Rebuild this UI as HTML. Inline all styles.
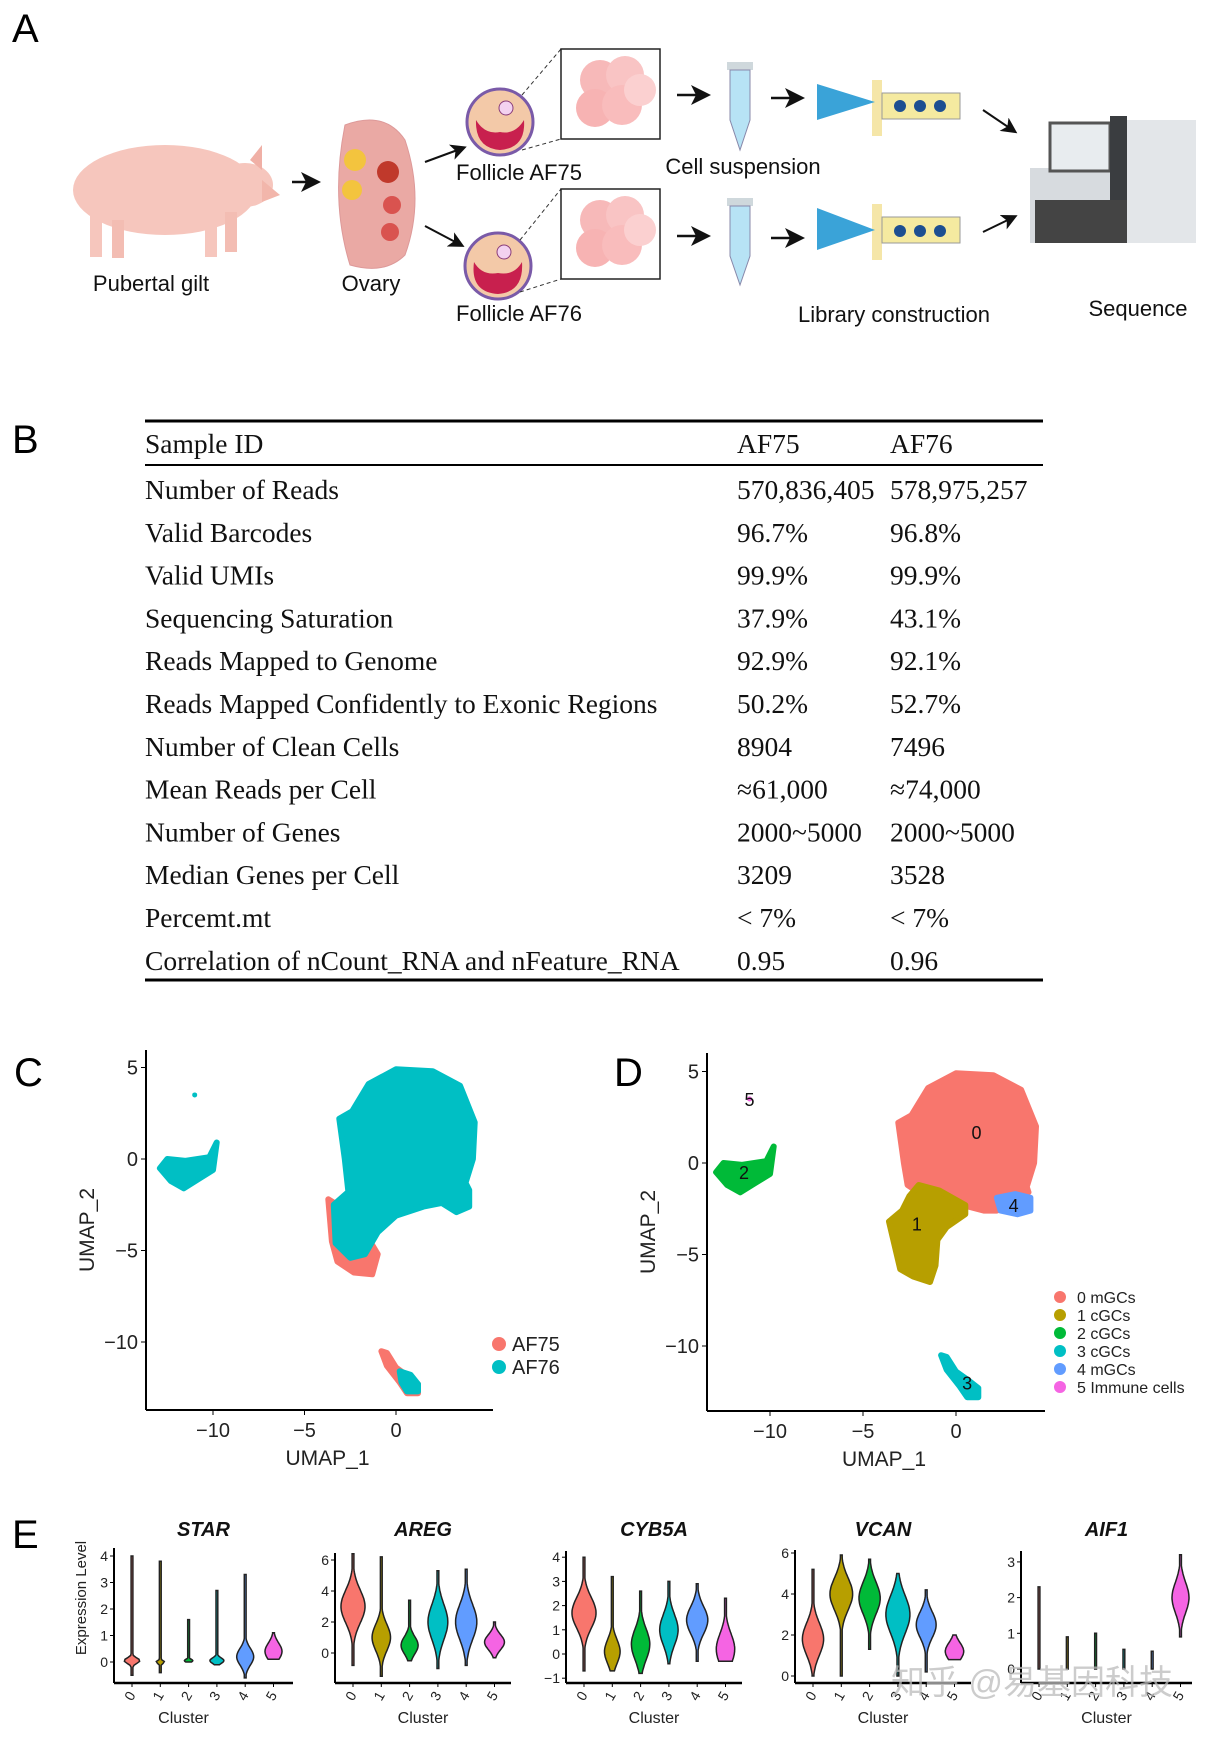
<!DOCTYPE html>
<html><head><meta charset="utf-8">
<style>
html,body{margin:0;padding:0;background:#fff;}
svg{display:block;}
text{font-family:"Liberation Sans",sans-serif;}
.serif{font-family:"Liberation Serif",serif;font-size:27.5px;fill:#111;}
.lab{font-size:22px;fill:#111;}
.panel{font-size:40px;fill:#000;}
</style></head>
<body>
<svg id="fig" width="1214" height="1739" viewBox="0 0 1214 1739" xmlns="http://www.w3.org/2000/svg">
<defs>
<marker id="arr" markerWidth="8" markerHeight="8" refX="6" refY="4" orient="auto"><path d="M0,0 L8,4 L0,8 L2,4 z" fill="#111"/></marker>
</defs>

<!-- Panel A -->
<g>
<text class="panel" x="12" y="42">A</text>
<g>
<ellipse cx="165" cy="190" rx="92" ry="45" fill="#f6c6bd"/>
<ellipse cx="245" cy="185" rx="28" ry="22" fill="#f6c6bd"/>
<path d="M262,180 L280,195 L262,202 z" fill="#f2b6ab"/>
<path d="M250,160 L262,145 L262,170 z" fill="#f0b0a6"/>
<rect x="90" y="215" width="12" height="42" fill="#f6c6bd"/><rect x="112" y="220" width="12" height="38" fill="#f3bdb3"/>
<rect x="205" y="215" width="12" height="42" fill="#f6c6bd"/><rect x="225" y="212" width="12" height="40" fill="#f3bdb3"/>
</g>
<text class="lab" x="151" y="291" text-anchor="middle">Pubertal gilt</text>
<line x1="292" y1="182" x2="316" y2="182" stroke="#111" stroke-width="2.5" marker-end="url(#arr)"/>
<g>
<path d="M345,125 Q385,110 405,140 Q425,200 405,255 Q385,275 350,265 Q330,200 345,125 z" fill="#eaa9a4" stroke="#d99" />
<circle cx="355" cy="160" r="11" fill="#f3c43e"/><circle cx="352" cy="190" r="10" fill="#f3c43e"/>
<circle cx="388" cy="172" r="11" fill="#c0392b"/><circle cx="392" cy="205" r="9" fill="#d9534f"/><circle cx="390" cy="232" r="9" fill="#d9534f"/>
</g>
<text class="lab" x="371" y="291" text-anchor="middle">Ovary</text>
<line x1="425" y1="162" x2="463" y2="148" stroke="#111" stroke-width="2" marker-end="url(#arr)"/>
<line x1="425" y1="226" x2="461" y2="245" stroke="#111" stroke-width="2" marker-end="url(#arr)"/>
<g>
<circle cx="500" cy="122" r="33" fill="#f3c9a8" stroke="#7a5aa8" stroke-width="3"/>
<path d="M476,120 Q475,148 500,150 Q526,148 524,120 Q515,135 500,132 Q485,135 476,120z" fill="#c8204e"/>
<circle cx="506" cy="108" r="7" fill="#f3d2f0" stroke="#8a3d7a"/>
</g>
<g>
<circle cx="498" cy="266" r="33" fill="#f3c9a8" stroke="#7a5aa8" stroke-width="3"/>
<path d="M474,262 Q470,292 498,294 Q524,292 522,262 Q514,276 498,273 Q482,276 474,262z" fill="#c8204e"/>
<circle cx="504" cy="252" r="7" fill="#f3d2f0" stroke="#8a3d7a"/>
</g>
<text class="lab" x="519" y="180" text-anchor="middle">Follicle AF75</text>
<text class="lab" x="519" y="321" text-anchor="middle">Follicle AF76</text>
<path d="M522,95 L561,49 M522,150 L561,139 M520,240 L561,189 M520,292 L561,279" stroke="#333" stroke-dasharray="4,3" fill="none"/>
<g>
<rect x="561" y="49" width="99" height="90" fill="#fff" stroke="#222" stroke-width="1.5"/>
<circle cx="600" cy="80" r="20" fill="#f7b9b9"/><circle cx="625" cy="75" r="19" fill="#f9c4c4"/><circle cx="595" cy="108" r="19" fill="#f7b3b3"/><circle cx="622" cy="105" r="20" fill="#f9bcbc"/><circle cx="640" cy="90" r="16" fill="#fbd0d0"/>
</g>
<g>
<rect x="561" y="189" width="99" height="90" fill="#fff" stroke="#222" stroke-width="1.5"/>
<circle cx="600" cy="220" r="20" fill="#f7b9b9"/><circle cx="625" cy="215" r="19" fill="#f9c4c4"/><circle cx="595" cy="248" r="19" fill="#f7b3b3"/><circle cx="622" cy="245" r="20" fill="#f9bcbc"/><circle cx="640" cy="230" r="16" fill="#fbd0d0"/>
</g>
<line x1="677" y1="95" x2="706" y2="95" stroke="#111" stroke-width="2.5" marker-end="url(#arr)"/>
<line x1="677" y1="236" x2="706" y2="236" stroke="#111" stroke-width="2.5" marker-end="url(#arr)"/>
<g><rect x="727" y="62" width="26" height="8" fill="#cfd8dc"/><path d="M730,70 L750,70 L750,120 L740,150 L730,120z" fill="#b7e3f5" stroke="#88a"/></g>
<g><rect x="727" y="198" width="26" height="8" fill="#cfd8dc"/><path d="M730,206 L750,206 L750,256 L740,285 L730,256z" fill="#b7e3f5" stroke="#88a"/></g>
<text class="lab" x="743" y="174" text-anchor="middle">Cell suspension</text>
<line x1="771" y1="98" x2="800" y2="98" stroke="#111" stroke-width="2.5" marker-end="url(#arr)"/>
<line x1="771" y1="238" x2="800" y2="238" stroke="#111" stroke-width="2.5" marker-end="url(#arr)"/>
<g>
<rect x="872" y="80" width="10" height="56" fill="#f5e6a8"/><rect x="882" y="93" width="78" height="26" fill="#f5eaa0" stroke="#999"/>
<path d="M817,84 L875,102 L817,120 z" fill="#3aa3d8"/><circle cx="900" cy="106" r="6" fill="#1d4f91"/><circle cx="920" cy="106" r="6" fill="#1d4f91"/><circle cx="940" cy="106" r="6" fill="#1d4f91"/>
</g>
<g>
<rect x="872" y="204" width="10" height="56" fill="#f5e6a8"/><rect x="882" y="217" width="78" height="26" fill="#f5eaa0" stroke="#999"/>
<path d="M817,208 L875,230 L817,250 z" fill="#3aa3d8"/><circle cx="900" cy="231" r="6" fill="#1d4f91"/><circle cx="920" cy="231" r="6" fill="#1d4f91"/><circle cx="940" cy="231" r="6" fill="#1d4f91"/>
</g>
<text class="lab" x="894" y="322" text-anchor="middle">Library construction</text>
<line x1="983" y1="110" x2="1014" y2="131" stroke="#111" stroke-width="2" marker-end="url(#arr)"/>
<line x1="983" y1="232" x2="1014" y2="217" stroke="#111" stroke-width="2" marker-end="url(#arr)"/>
<g>
<rect x="1030" y="168" width="166" height="75" fill="#d7dbdf"/>
<rect x="1050" y="123" width="60" height="48" fill="#e8ecef" stroke="#555" stroke-width="3"/>
<rect x="1110" y="116" width="17" height="127" fill="#3a3d40"/>
<rect x="1127" y="120" width="69" height="123" fill="#e3e6e9"/>
<rect x="1035" y="200" width="92" height="43" fill="#444"/>
</g>
<text class="lab" x="1138" y="316" text-anchor="middle">Sequence</text>
</g>

<!-- Panel B table -->
<g>
<text class="panel" x="12" y="453">B</text>
<line x1="145" y1="421" x2="1043" y2="421" stroke="#000" stroke-width="3"/>
<line x1="145" y1="465" x2="1043" y2="465" stroke="#000" stroke-width="2"/>
<line x1="145" y1="980" x2="1043" y2="980" stroke="#000" stroke-width="3"/>
<g id="tbl"></g>
</g>

<g id="panelC">
<text class="panel" x="14" y="1086">C</text>
</g>
<g id="panelD">
<text class="panel" x="614" y="1086">D</text>
</g>
<text class="panel" x="12" y="1548">E</text>
<g id="panelE" transform="translate(0,8)">
<text x="0" y="0" transform="translate(86,1590) rotate(-90)" text-anchor="middle" font-size="15" fill="#222">Expression Level</text>
</g>
<text x="1032" y="1694" text-anchor="middle" font-size="34" fill="#bbb" fill-opacity="0.75" font-family="'Liberation Sans','Noto Sans CJK SC',sans-serif">知乎 @易基因科技</text>
</svg>

<script>
const NS="http://www.w3.org/2000/svg";
function el(tag,attrs,parent,txt){const e=document.createElementNS(NS,tag);for(const k in attrs)e.setAttribute(k,attrs[k]);if(txt!==undefined)e.textContent=txt;parent.appendChild(e);return e;}

// ---------- Table ----------
const tableLabels=["Number of Reads","Valid Barcodes","Valid UMIs","Sequencing Saturation","Reads Mapped to Genome","Reads Mapped Confidently to Exonic Regions","Number of Clean Cells","Mean Reads per Cell","Number of Genes","Median Genes per Cell","Percemt.mt","Correlation of nCount_RNA and nFeature_RNA"];
const tableAF75=["570,836,405","96.7%","99.9%","37.9%","92.9%","50.2%","8904","≈61,000","2000~5000","3209","< 7%","0.95"];
const tableAF76=["578,975,257","96.8%","99.9%","43.1%","92.1%","52.7%","7496","≈74,000","2000~5000","3528","< 7%","0.96"];
const tbl=document.getElementById('tbl');
let h=el('text',{class:'serif',x:145,y:453},tbl,'Sample ID');


h=el('text',{class:'serif',x:737,y:453},tbl,'AF75');


h=el('text',{class:'serif',x:890,y:453},tbl,'AF76');


tableLabels.forEach((lab,i)=>{
  const y=499+i*42.8;
  const g=el('g',{},tbl);
  
  
  el('text',{class:'serif',x:145,y:y},g,lab);
  el('text',{class:'serif',x:737,y:y},g,tableAF75[i]);
  el('text',{class:'serif',x:890,y:y},g,tableAF76[i]);
});

// ---------- UMAP data ----------
const xTicks=[-10,-5,0];
const yTicks=[5,0,-5,-10];
const mainBlobCyan=[[-2.4,2.6],[-1.5,4.1],[0,4.9],[2,4.8],[3.5,4],[4.3,2],[4.2,0],[3.8,-1.3],[4.0,-1.7],[4.0,-2.6],[3.3,-2.9],[2.5,-2.4],[1.5,-2.6],[0,-3.1],[-1,-4],[-1.7,-5.2],[-2.5,-5.4],[-3.3,-4.6],[-3.4,-2.5],[-2.6,-1.8],[-2.8,0],[-3.1,2.2]];
const mainBlobSalmon=[[-3.7,-2.2],[-3.5,-4.5],[-3.2,-5.6],[-2.3,-6.2],[-1.3,-6.3],[-1.0,-5.2],[-1.6,-4.2],[-2.4,-3]];
const leftBlob=[[-12.9,-0.5],[-12.5,0],[-11.5,-0.1],[-10.2,0.1],[-9.8,0.9],[-10.0,-0.6],[-10.8,-1.1],[-11.6,-1.6],[-12.3,-1.2]];
const bottomStreakSalmon=[[-0.8,-10.5],[-0.5,-10.6],[0,-11.4],[0.7,-11.9],[1.2,-12.3],[1.2,-12.8],[0.6,-12.8],[0.2,-12.2],[-0.5,-11.3]];
const bottomStreakCyan=[[0.2,-11.6],[0.8,-11.8],[1.2,-12.3],[1.2,-12.7],[0.6,-12.7],[0.3,-12.2]];
const cluster0=[[-2.4,2.6],[-1.5,4.1],[0,4.9],[2,4.8],[3.5,4],[4.3,2],[4.2,0],[3.8,-1.3],[3.9,-1.6],[2.5,-1.9],[2.2,-2.6],[1.5,-2.6],[0,-2.2],[-1.2,-1.8],[-2.0,-1.6],[-2.6,-1.2],[-2.8,0],[-3.1,2.2]];
const cluster1=[[-2.0,-1.2],[-0.9,-1.5],[0.5,-2.3],[0.5,-2.8],[-0.5,-3.5],[-1.0,-4.2],[-1.1,-5.6],[-1.4,-6.5],[-2.3,-6.2],[-3.0,-5.8],[-3.3,-4.5],[-3.6,-3.2],[-2.9,-2.6],[-2.5,-1.8]];
const cluster4=[[2.2,-1.9],[3.2,-1.7],[4.0,-1.9],[4.0,-2.6],[3.3,-2.8],[2.4,-2.6]];
const clusterColors=["#F8766D","#B79F00","#00BA38","#00BFC4","#619CFF","#F564E3"];
const clusterNames=["0 mGCs","1 cGCs","2 cGCs","3 cGCs","4 mGCs","5 Immune cells"];
const clusterLabelPos=[[1.1,1.7],[-2.1,-3.3],[-11.4,-0.5],[0.6,-12.0],[3.1,-2.3],[-11.1,3.5]];
const sampleNames=["AF75","AF76"];
const sampleColors=["#F8766D","#00BFC4"];

function umapAxes(g,x0,y0,sx,sy,xAxisX,xAxisEnd,yAxisTop,xAxisY){
  const X=v=>x0+v*sx, Y=v=>y0-v*sy;
  el('line',{x1:xAxisX,y1:yAxisTop,x2:xAxisX,y2:xAxisY,stroke:'#000','stroke-width':2},g);
  el('line',{x1:xAxisX,y1:xAxisY,x2:xAxisEnd,y2:xAxisY,stroke:'#000','stroke-width':2},g);
  xTicks.forEach(t=>{
    el('line',{x1:X(t),y1:xAxisY,x2:X(t),y2:xAxisY+5,stroke:'#000'},g);
    const tx=el('text',{x:X(t),y:xAxisY+27,'text-anchor':'middle','font-size':20,fill:'#222'},g,t===0?'0':'−'+Math.abs(t));
    
    
  });
  yTicks.forEach(t=>{
    el('line',{x1:xAxisX-5,y1:Y(t),x2:xAxisX,y2:Y(t),stroke:'#000'},g);
    const ty=el('text',{x:xAxisX-8,y:Y(t)+7,'text-anchor':'end','font-size':20,fill:'#222'},g,t<0?'−'+Math.abs(t):String(t));
    
    
  });
  const xt=el('text',{x:(xAxisX+xAxisEnd)/2+8,y:xAxisY+55,'text-anchor':'middle','font-size':21,fill:'#222'},g,'UMAP_1');
  
  
  const yt=el('text',{transform:`translate(${xAxisX-52},${(yAxisTop+xAxisY)/2}) rotate(-90)`,'text-anchor':'middle','font-size':21,fill:'#222'},g,'UMAP_2');
  
  
  return [X,Y];
}
function blob(g,pts,X,Y,color,name){
  const d='M'+pts.map(p=>X(p[0]).toFixed(1)+','+Y(p[1]).toFixed(1)).join(' L')+' Z';
  const p=el('path',{d:d,fill:color,stroke:color,'stroke-width':6,'stroke-linejoin':'round'},g);
  
  
}

// Panel C
(function(){
  const g=document.getElementById('panelC');
  const [X,Y]=umapAxes(g,396,1159,18.3,18.3,146,493,1050,1410);
  blob(g,mainBlobSalmon,X,Y,sampleColors[0],'af75-cells-main');
  blob(g,mainBlobCyan,X,Y,sampleColors[1],'af76-cells-main');
  blob(g,leftBlob,X,Y,sampleColors[1],'af76-cells-left');
  blob(g,bottomStreakSalmon,X,Y,sampleColors[0],'af75-cells-bottom');
  blob(g,bottomStreakCyan,X,Y,sampleColors[1],'af76-cells-bottom');
  const dot=el('circle',{cx:X(-11),cy:Y(3.5),r:2.5,fill:sampleColors[1]},g);
  
  
  sampleNames.forEach((n,i)=>{
    const lg=el('g',{},g);
    
    
    el('circle',{cx:499,cy:1344+i*23,r:7,fill:sampleColors[i]},lg);
    el('text',{x:512,y:1351+i*23,'font-size':20,fill:'#222'},lg,n);
  });
})();

// Panel D
(function(){
  const g=document.getElementById('panelD');
  const [X,Y]=umapAxes(g,956,1163,18.6,18.3,707,1045,1053,1411);
  blob(g,cluster0,X,Y,clusterColors[0],'cluster-0-cells');
  blob(g,cluster1,X,Y,clusterColors[1],'cluster-1-cells');
  blob(g,leftBlob,X,Y,clusterColors[2],'cluster-2-cells');
  blob(g,bottomStreakSalmon,X,Y,clusterColors[3],'cluster-3-cells');
  blob(g,cluster4,X,Y,clusterColors[4],'cluster-4-cells');
  const dot=el('circle',{cx:X(-11.1),cy:Y(3.5),r:2.5,fill:clusterColors[5]},g);
  
  
  clusterLabelPos.forEach((p,i)=>{
    const t=el('text',{x:X(p[0]),y:Y(p[1])+7,'text-anchor':'middle','font-size':18,fill:'#111'},g,String(i));
    
    
  });
  clusterNames.forEach((n,i)=>{
    const lg=el('g',{},g);
    
    
    el('circle',{cx:1060,cy:1297+i*18,r:6,fill:clusterColors[i]},lg);
    el('text',{x:1077,y:1303+i*18,'font-size':16,fill:'#222'},lg,n);
  });
})();

// ---------- Panel E violin data ----------
const genes=["STAR","AREG","CYB5A","VCAN","AIF1"];
const starMin=[-0.5,-0.4,0,-0.1,-0.6,0.1], starMax=[4,3.8,1.6,2.7,3.3,1.1], starMode=[0.05,0,0.05,0.05,0.2,0.4], starWid=[0.55,0.3,0.3,0.5,0.6,0.6], starSpread=[0.15,0.08,0.08,0.15,0.45,0.45];
const aregMin=[-0.8,-1.5,-0.5,-1,-0.8,-0.3], aregMax=[6.4,6.2,3.4,5.3,5.4,2], aregMode=[3,1,0.5,2,2,0.7], aregWid=[0.85,0.65,0.6,0.7,0.75,0.7], aregSpread=[1.5,1.2,0.8,1.6,1.6,0.7];
const cybMin=[-0.7,-0.7,-0.8,-0.4,-0.3,-0.3], cybMax=[4,3.2,2.6,3,2.9,2.3], cybMode=[1.7,0.1,0.4,1,1.4,0.2], cybWid=[0.85,0.55,0.65,0.65,0.75,0.65], cybSpread=[0.9,0.7,0.9,0.9,0.8,0.9];
const vcanMin=[0,0,1.3,0,0.2,0.8], vcanMax=[5.2,5.9,5.7,5,4.2,2], vcanMode=[1.8,4,3.8,3,2.5,1.2], vcanWid=[0.75,0.8,0.75,0.85,0.7,0.65], vcanSpread=[1.1,1.1,1.1,1.3,0.9,0.6];
const aifMin=[0,0,0,0,0,0.9], aifMax=[2.3,0.9,1,0.55,0.5,3.2], aifMode=[0,0,0,0,0,2], aifWid=[0.06,0.03,0.03,0.03,0.03,0.6], aifSpread=[0.1,0.1,0.1,0.1,0.1,0.6];
const geneTicks=[[0,1,2,3,4],[0,2,4,6],[-1,0,1,2,3,4],[0,2,4,6],[0,1,2,3]];
const clusters=[0,1,2,3,4,5];
const panelAxisX=[114,335,566,795,1021];
const panelAxisEnd=[293,511,742,971,1192];
const panelZeroY=[1654,1645,1646,1668,1661];
const panelUnit=[26.5,15.5,24.2,20.5,35.7];
const panelTop=[1540,1545,1543,1542,1543];

const violinData=[[starMin,starMax,starMode,starWid,starSpread],[aregMin,aregMax,aregMode,aregWid,aregSpread],[cybMin,cybMax,cybMode,cybWid,cybSpread],[vcanMin,vcanMax,vcanMode,vcanWid,vcanSpread],[aifMin,aifMax,aifMode,aifWid,aifSpread]];
(function(){
  const g=document.getElementById('panelE');
  const axisY=1675, sp=28.3;
  genes.forEach((gene,k)=>{
    const pg=el('g',{},g);
    
    
    const ax=panelAxisX[k], Y=v=>panelZeroY[k]-v*panelUnit[k];
    const X=c=>ax+18+c*sp;
    const t=el('text',{x:(ax+panelAxisEnd[k])/2,y:1528,'text-anchor':'middle','font-size':20,'font-weight':'bold','font-style':'italic',fill:'#111'},pg,gene);
    
    
    const [mn,mx,mo,wd,spr]=violinData[k];
    clusters.forEach(c=>{
      const lo=mn[c],hi=mx[c],mode=mo[c],W=wd[c]*sp/2;
      const s=spr[c];
      const N=60, right=[], left=[];
      for(let i=0;i<=N;i++){
        const v=lo+(hi-lo)*i/N;
        let w=W*Math.exp(-Math.pow((v-mode)/s,2));
        w=Math.max(w,0.9);
        right.push([X(c)+w,Y(v)]);left.push([X(c)-w,Y(v)]);
      }
      const pts=right.concat(left.reverse());
      const d='M'+pts.map(p=>p[0].toFixed(1)+','+p[1].toFixed(1)).join(' L')+' Z';
      const v=el('path',{d:d,fill:clusterColors[c],stroke:'#222','stroke-width':1.5},pg);
      
      
    });
    el('line',{x1:ax,y1:panelTop[k],x2:ax,y2:axisY,stroke:'#000','stroke-width':2},pg);
    el('line',{x1:ax,y1:axisY,x2:panelAxisEnd[k],y2:axisY,stroke:'#000','stroke-width':2.5},pg);
    geneTicks[k].forEach(tv=>{
      el('line',{x1:ax-4,y1:Y(tv),x2:ax,y2:Y(tv),stroke:'#000'},pg);
      const tl=el('text',{x:ax-6,y:Y(tv)+5,'text-anchor':'end','font-size':14,fill:'#222'},pg,tv<0?'−'+Math.abs(tv):String(tv));
      
      
    });
    clusters.forEach(c=>{
      el('line',{x1:X(c),y1:axisY,x2:X(c),y2:axisY+4,stroke:'#000'},pg);
      const cl=el('text',{transform:`translate(${X(c)+4},${axisY+12}) rotate(-60)`,'text-anchor':'end','font-size':14,fill:'#222'},pg,String(c));
      
      
    });
    const xt=el('text',{x:(ax+panelAxisEnd[k])/2+(k===0?-20:0),y:1715,'text-anchor':'middle','font-size':16,fill:'#222'},pg,'Cluster');
    
    
  });
})();
</script>
</body></html>
